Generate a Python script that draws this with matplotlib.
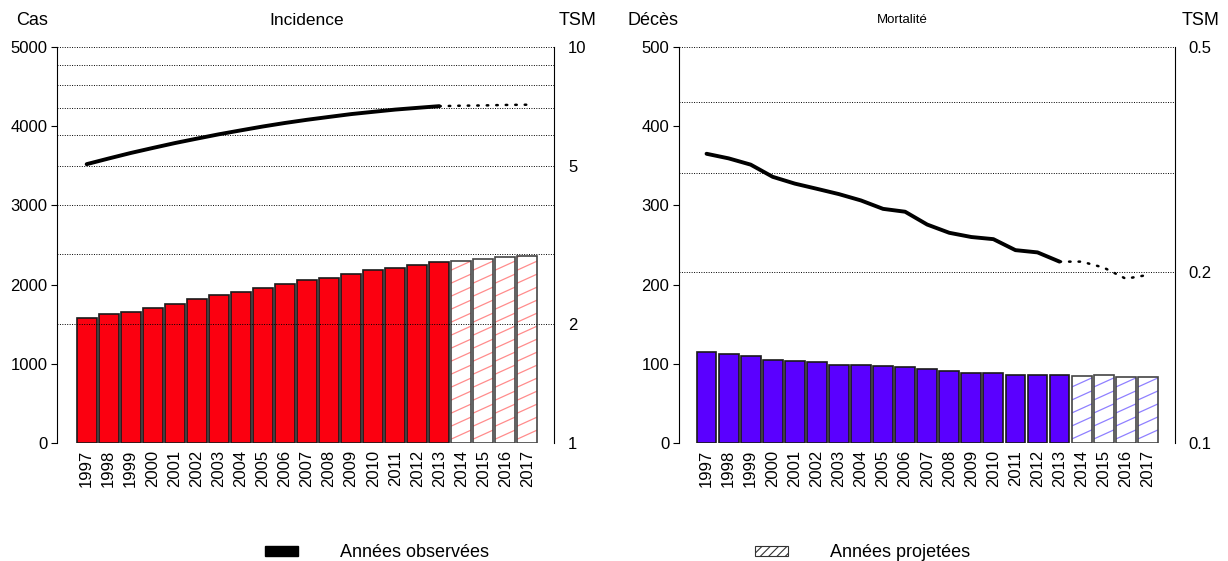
import matplotlib
matplotlib.use('Agg')
import numpy as np
import matplotlib.pyplot as plt
from matplotlib.patches import Rectangle
from matplotlib.ticker import FixedLocator, NullFormatter, FuncFormatter

plt.rcParams['font.family'] = ['Liberation Sans', 'DejaVu Sans']
plt.rcParams['hatch.linewidth'] = 0.8

# Données
years = [str(y) for y in range(1997, 2018)]
n_obs = 17  # 1997-2013 observées, 2014-2017 projetées

cas = [1580, 1625, 1654, 1705, 1751, 1818, 1865, 1910, 1961, 2003, 2054,
       2087, 2134, 2184, 2214, 2247, 2281, 2298, 2323, 2344, 2361]
tsm_inc = [5.06, 5.23, 5.40, 5.56, 5.72, 5.87, 6.02, 6.16, 6.30, 6.43, 6.55,
           6.66, 6.77, 6.86, 6.95, 7.02, 7.09]
tsm_inc_proj = [7.09, 7.11, 7.12, 7.14, 7.15]

deces = [115, 113, 110, 105, 104, 102, 99, 99, 97, 96, 93,
         91, 89, 89, 86, 86, 86, 84, 86, 83, 83]
tsm_mort = [0.324, 0.318, 0.310, 0.295, 0.287, 0.281, 0.275, 0.268, 0.259,
            0.256, 0.243, 0.235, 0.231, 0.229, 0.219, 0.217, 0.209]
tsm_mort_proj = [0.209, 0.209, 0.204, 0.195, 0.198]

BAR_W = 0.9
AX_H_PX = 396  # hauteur de l'axe en pixels


def shallow_hatch(ax, bars, color, ymax):
    # hachures obliques peu inclinées, découpées sur chaque barre
    sp = 13 * ymax / AX_H_PX
    rise = 9 * ymax / AX_H_PX
    for b in bars:
        x0 = b.get_x()
        x1 = x0 + b.get_width()
        h = b.get_height()
        for y0 in np.arange(-rise, h, sp):
            ln, = ax.plot([x0, x1], [y0, y0 + rise], color=color, lw=0.9,
                          zorder=2.5)
            ln.set_clip_path(b)


def panel(rect, counts, tsm, tsm_proj, color, hatch_col, ymax, tsm_lim,
          tsm_major, tsm_minor, xlim):
    ax = fig.add_axes(rect)
    x = list(range(len(years)))
    xo, xp = x[:n_obs], x[n_obs:]
    ax.bar(xo, counts[:n_obs], width=BAR_W, color=color, edgecolor='#1a1a1a',
           linewidth=1.2, zorder=2)
    proj = ax.bar(xp, counts[n_obs:], width=BAR_W, color='white',
                  linewidth=0, zorder=2)
    shallow_hatch(ax, proj, hatch_col, ymax)
    ax.bar(xp, counts[n_obs:], width=BAR_W, fill=False, edgecolor='#444444',
           linewidth=1.2, zorder=3)
    ax.set_xlim(*xlim)
    ax.set_ylim(0, ymax)
    ax.set_yticks(range(0, ymax + 1, ymax // 5))
    ax.set_xticks(x)
    ax.set_xticklabels(years, rotation=90, fontsize=12)
    ax.tick_params(axis='x', length=0, pad=5)
    ax.tick_params(axis='y', length=4, pad=3, labelsize=12)
    for s in ['top', 'bottom', 'right']:
        ax.spines[s].set_visible(False)

    ax2 = ax.twinx()
    ax2.set_yscale('log')
    ax2.set_ylim(*tsm_lim)
    ax2.yaxis.set_major_locator(FixedLocator(tsm_major))
    ax2.yaxis.set_minor_locator(FixedLocator(tsm_minor))
    ax2.yaxis.set_major_formatter(FuncFormatter(lambda v, p: '%g' % v))
    ax2.yaxis.set_minor_formatter(NullFormatter())
    ax2.tick_params(axis='y', which='both', length=0, pad=10, labelsize=12)
    ax2.grid(True, which='both', axis='y', linestyle=(0, (1, 1.5)),
             color='black', linewidth=0.7)
    for s in ['top', 'bottom', 'left']:
        ax2.spines[s].set_visible(False)
    ax2.plot(xo, tsm, color='black', linewidth=2.8, solid_capstyle='round',
             solid_joinstyle='round')
    ax2.plot(x[n_obs - 1:], tsm_proj, color='black', linewidth=1.8,
             linestyle=(0, (0.6, 3.2)), dash_capstyle='round')
    return ax, ax2


fig = plt.figure(figsize=(12.28, 5.61), dpi=100)

panel([0.0467, 0.2103, 0.4045, 0.7059], cas, tsm_inc, tsm_inc_proj,
      '#fb0010', '#ff8c8c', 5000, (1, 10), [1, 2, 5, 10],
      [3, 4, 6, 7, 8, 9], (-1.33, 21.21))
panel([0.5529, 0.2103, 0.4039, 0.7059], deces, tsm_mort, tsm_mort_proj,
      '#5a00ff', '#8f80ff', 500, (0.1, 0.5), [0.1, 0.2, 0.5],
      [0.3, 0.4], (-1.25, 21.23))

# Titres
fig.text(0.013, 0.964, 'Cas', fontsize=13, va='center')
fig.text(0.250, 0.964, 'Incidence', fontsize=12.5, va='center', ha='center')
fig.text(0.455, 0.964, 'TSM', fontsize=13, va='center')
fig.text(0.511, 0.964, 'Décès', fontsize=13, va='center')
fig.text(0.735, 0.964, 'Mortalité', fontsize=9.5, va='center', ha='center')
fig.text(0.962, 0.964, 'TSM', fontsize=13, va='center')

# Légende
fig.add_artist(Rectangle((0.2158, 0.0089), 0.0269, 0.0178, facecolor='black',
                         edgecolor='black', transform=fig.transFigure))
fig.text(0.2769, 0.016, 'Années observées', fontsize=13, va='center')
fig.add_artist(Rectangle((0.6148, 0.0089), 0.0269, 0.0178, facecolor='white',
                         edgecolor='#333333', hatch='////', linewidth=0.8,
                         transform=fig.transFigure))
fig.text(0.6759, 0.016, 'Années projetées', fontsize=13, va='center')

fig.savefig('out.png', dpi=100)
